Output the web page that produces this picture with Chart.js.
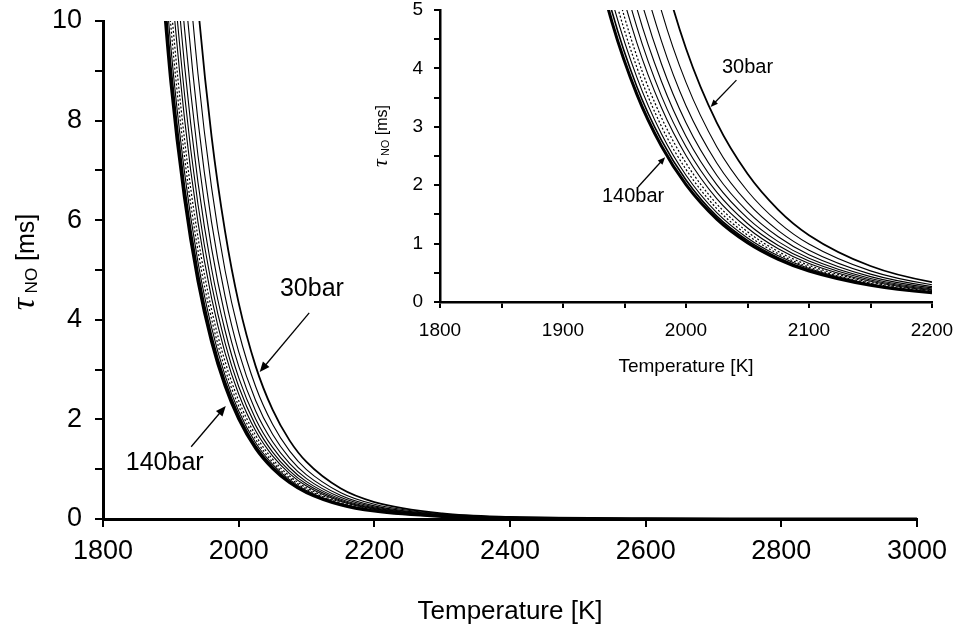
<!DOCTYPE html>
<html>
<head>
<meta charset="utf-8">
<script src="https://cdn.jsdelivr.net/npm/chart.js@4.4.0/dist/chart.umd.min.js"></script>
<style>
  html, body { margin: 0; padding: 0; background: #fff; }
  #wrap { position: relative; width: 960px; height: 636px; }
  #mainChart { position: absolute; left: 0; top: 0; }
  #insetChart { position: absolute; left: 360px; top: 0; }
</style>
</head>
<body>
<div id="wrap">
  <canvas id="mainChart" width="960" height="636"></canvas>
  <canvas id="insetChart" width="600" height="380"></canvas>
</div>
<script>
  // temperatures [K] and tau_NO [ms], one array per pressure
  const temperatures = [1880, 1900, 1920, 1940, 1960, 1980, 2000, 2025, 2050, 2075, 2100, 2150, 2200, 2300, 2400, 2600, 2800, 3000];
  const pressures = [140, 130, 120, 110, 100, 90, 80, 70, 60, 50, 40, 30];

  const tau140 = [12.01, 8.78, 6.46, 4.78, 3.56, 2.67, 2.01, 1.42, 1.016, 0.731, 0.530, 0.285, 0.158, 0.052, 0.019, 0.003, 0.001, 0];
  const tau130 = [12.46, 9.11, 6.70, 4.96, 3.69, 2.77, 2.09, 1.47, 1.054, 0.759, 0.550, 0.296, 0.164, 0.054, 0.020, 0.003, 0.001, 0];
  const tau120 = [12.97, 9.48, 6.98, 5.16, 3.85, 2.88, 2.17, 1.53, 1.097, 0.790, 0.572, 0.308, 0.171, 0.056, 0.021, 0.003, 0.001, 0];
  const tau110 = [13.55, 9.91, 7.29, 5.39, 4.02, 3.01, 2.27, 1.60, 1.146, 0.825, 0.598, 0.322, 0.178, 0.059, 0.021, 0.003, 0.001, 0];
  const tau100 = [14.21, 10.39, 7.64, 5.66, 4.21, 3.16, 2.38, 1.68, 1.202, 0.865, 0.627, 0.337, 0.187, 0.062, 0.022, 0.004, 0.001, 0];
  const tau90  = [14.98, 10.95, 8.06, 5.96, 4.44, 3.33, 2.51, 1.77, 1.267, 0.912, 0.661, 0.355, 0.197, 0.065, 0.024, 0.004, 0.001, 0];
  const tau80  = [15.89, 11.62, 8.55, 6.32, 4.71, 3.53, 2.66, 1.88, 1.344, 0.967, 0.701, 0.377, 0.209, 0.069, 0.025, 0.004, 0.001, 0];
  const tau70  = [16.98, 12.42, 9.14, 6.76, 5.03, 3.78, 2.84, 2.01, 1.437, 1.034, 0.750, 0.403, 0.223, 0.074, 0.027, 0.004, 0.001, 0];
  const tau60  = [18.35, 13.41, 9.87, 7.30, 5.44, 4.08, 3.07, 2.17, 1.552, 1.117, 0.810, 0.435, 0.241, 0.079, 0.029, 0.005, 0.001, 0];
  const tau50  = [20.10, 14.69, 10.81, 8.00, 5.96, 4.47, 3.36, 2.38, 1.700, 1.223, 0.887, 0.477, 0.264, 0.087, 0.032, 0.005, 0.001, 0];
  const tau40  = [22.47, 16.43, 12.09, 8.94, 6.66, 4.99, 3.76, 2.66, 1.901, 1.368, 0.992, 0.533, 0.296, 0.097, 0.036, 0.006, 0.001, 0];
  const tau30  = [25.94, 18.97, 13.96, 10.33, 7.69, 5.77, 4.34, 3.07, 2.195, 1.579, 1.145, 0.616, 0.341, 0.112, 0.041, 0.006, 0.001, 0];

  const tauSeries = [tau140, tau130, tau120, tau110, tau100, tau90, tau80, tau70, tau60, tau50, tau40, tau30];

  // axis ranges / ticks
  const mainXTicks = [1800, 3000, 200];
  const mainYTicks = [0, 10, 1];
  const insetXTicks = [1800, 2200, 50];
  const insetYTicks = [0, 5, 0.5];

  // labels with arrows (data coords): text pos, arrow start, arrow end
  const mainNotes = [
    { text: '30bar', at: [2108, 4.62], from: [2104, 4.14], to: [2031, 2.95] },
    { text: '140bar', at: [1891, 1.12], from: [1930, 1.45], to: [1981, 2.27] }
  ];
  const insetNotes = [
    { text: '30bar', at: [2050, 4.02], from: [2041, 3.80], to: [2020, 3.34] },
    { text: '140bar', at: [1957, 1.80], from: [1961, 1.97], to: [1983, 2.48] }
  ];

  const SANS = '"Liberation Sans", Arial, Helvetica, sans-serif';
  Chart.defaults.font.family = SANS;
  Chart.defaults.color = '#000';

  function lineStyle(p) {
    if (p === 140) return { w: 3, dash: [] };
    if (p === 130) return { w: 1.6, dash: [] };
    if (p === 30) return { w: 1.8, dash: [] };
    if (p === 110 || p === 100) return { w: 1.2, dash: [2, 2] };
    return { w: 1.1, dash: [] };
  }

  function makeDatasets() {
    return pressures.map((p, i) => {
      const s = lineStyle(p);
      return {
        label: p + 'bar',
        data: temperatures.map((t, j) => ({ x: t, y: tauSeries[i][j] })),
        borderColor: '#000',
        borderWidth: s.w,
        borderDash: s.dash,
        pointRadius: 0,
        fill: false,
        cubicInterpolationMode: 'monotone'
      };
    });
  }

  function drawArrow(ctx, x1, y1, x2, y2, head) {
    const a = Math.atan2(y2 - y1, x2 - x1);
    ctx.beginPath();
    ctx.moveTo(x1, y1);
    ctx.lineTo(x2 - Math.cos(a) * head * 0.6, y2 - Math.sin(a) * head * 0.6);
    ctx.stroke();
    ctx.beginPath();
    ctx.moveTo(x2, y2);
    ctx.lineTo(x2 - head * Math.cos(a - 0.4), y2 - head * Math.sin(a - 0.4));
    ctx.lineTo(x2 - head * Math.cos(a + 0.4), y2 - head * Math.sin(a + 0.4));
    ctx.closePath();
    ctx.fill();
  }

  // rotated "τ NO [ms]" title with subscript
  function drawTauTitle(ctx, x, y, sz) {
    const parts = [
      { t: 'τ', font: 'italic ' + sz.tau + 'px "Liberation Serif", "Times New Roman", serif', dy: 0 },
      { t: ' NO', font: sz.sub + 'px ' + SANS, dy: sz.subDy },
      { t: ' [ms]', font: sz.main + 'px ' + SANS, dy: 0 }
    ];
    ctx.save();
    ctx.translate(x, y);
    ctx.rotate(-Math.PI / 2);
    ctx.fillStyle = '#000';
    ctx.textBaseline = 'alphabetic';
    ctx.textAlign = 'left';
    let total = 0;
    parts.forEach(p => { ctx.font = p.font; p.w = ctx.measureText(p.t).width; total += p.w; });
    let cx = -total / 2;
    parts.forEach(p => { ctx.font = p.font; ctx.fillText(p.t, cx, p.dy); cx += p.w; });
    ctx.restore();
  }

  function notesPlugin(notes, fontSize, head, title) {
    return {
      id: 'notes',
      afterDraw(chart) {
        const ctx = chart.ctx;
        const xs = chart.scales.x, ys = chart.scales.y;
        ctx.save();
        ctx.fillStyle = '#000';
        ctx.strokeStyle = '#000';
        ctx.lineWidth = 1.3;
        ctx.font = fontSize + 'px ' + SANS;
        ctx.textAlign = 'center';
        ctx.textBaseline = 'middle';
        notes.forEach(n => {
          ctx.fillText(n.text, xs.getPixelForValue(n.at[0]), ys.getPixelForValue(n.at[1]));
          drawArrow(ctx, xs.getPixelForValue(n.from[0]), ys.getPixelForValue(n.from[1]),
            xs.getPixelForValue(n.to[0]), ys.getPixelForValue(n.to[1]), head);
        });
        ctx.restore();
        const ca = chart.chartArea;
        drawTauTitle(ctx, title.x, (ca.top + ca.bottom) / 2 + title.dy, title);
      }
    };
  }

  function axisOpts(range, o) {
    return {
      type: 'linear',
      min: range[0],
      max: range[1],
      ticks: {
        stepSize: range[2],
        color: '#000',
        font: { size: o.font },
        padding: o.pad,
        maxRotation: 0,
        autoSkip: false,
        callback: v => (Math.abs(v / o.labelEvery - Math.round(v / o.labelEvery)) < 1e-6 ? String(v) : '')
      },
      grid: { drawOnChartArea: false, drawTicks: true, tickLength: o.tick, color: '#000', lineWidth: 2 },
      border: { display: true, color: '#000', width: o.border },
      title: o.title ? { display: true, text: o.title, color: '#000', font: { size: o.titleSize }, padding: { top: 0, bottom: o.titlePad } } : { display: false },
      afterFit: s => {
        // layout padding alone decides the plot box
        s.paddingTop = 0; s.paddingBottom = 0; s.paddingLeft = 0; s.paddingRight = 0;
        if (s.isHorizontal()) s.height = o.size; else s.width = o.size;
      }
    };
  }

  // main chart
  new Chart(document.getElementById('mainChart').getContext('2d'), {
    type: 'line',
    data: { datasets: makeDatasets() },
    options: {
      responsive: false,
      animation: false,
      layout: { padding: { left: 0, top: 21, right: 43, bottom: 0 } },
      plugins: { legend: { display: false }, tooltip: { enabled: false } },
      scales: {
        x: axisOpts(mainXTicks, { font: 27, pad: 8, tick: 8, border: 3, labelEvery: 200, title: 'Temperature [K]', titleSize: 26, titlePad: 9, size: 117 }),
        y: axisOpts(mainYTicks, { font: 27, pad: 13, tick: 8, border: 3, labelEvery: 2, size: 103 })
      }
    },
    plugins: [notesPlugin(mainNotes, 25, 11, { x: 34, dy: -8, tau: 34, sub: 17, subDy: 3, main: 25 })]
  });

  // inset chart
  new Chart(document.getElementById('insetChart').getContext('2d'), {
    type: 'line',
    data: { datasets: makeDatasets() },
    options: {
      responsive: false,
      animation: false,
      layout: { padding: { left: 0, top: 10, right: 28, bottom: 0 } },
      plugins: { legend: { display: false }, tooltip: { enabled: false } },
      scales: {
        x: axisOpts(insetXTicks, { font: 19, pad: 11, tick: 6, border: 2.5, labelEvery: 100, title: 'Temperature [K]', titleSize: 19, titlePad: 2, size: 78 }),
        y: axisOpts(insetYTicks, { font: 19, pad: 11, tick: 6, border: 2.5, labelEvery: 1, size: 80 })
      }
    },
    plugins: [notesPlugin(insetNotes, 20, 8, { x: 27, dy: -20, tau: 22, sub: 11, subDy: 2, main: 16 })]
  });
</script>
</body>
</html>
